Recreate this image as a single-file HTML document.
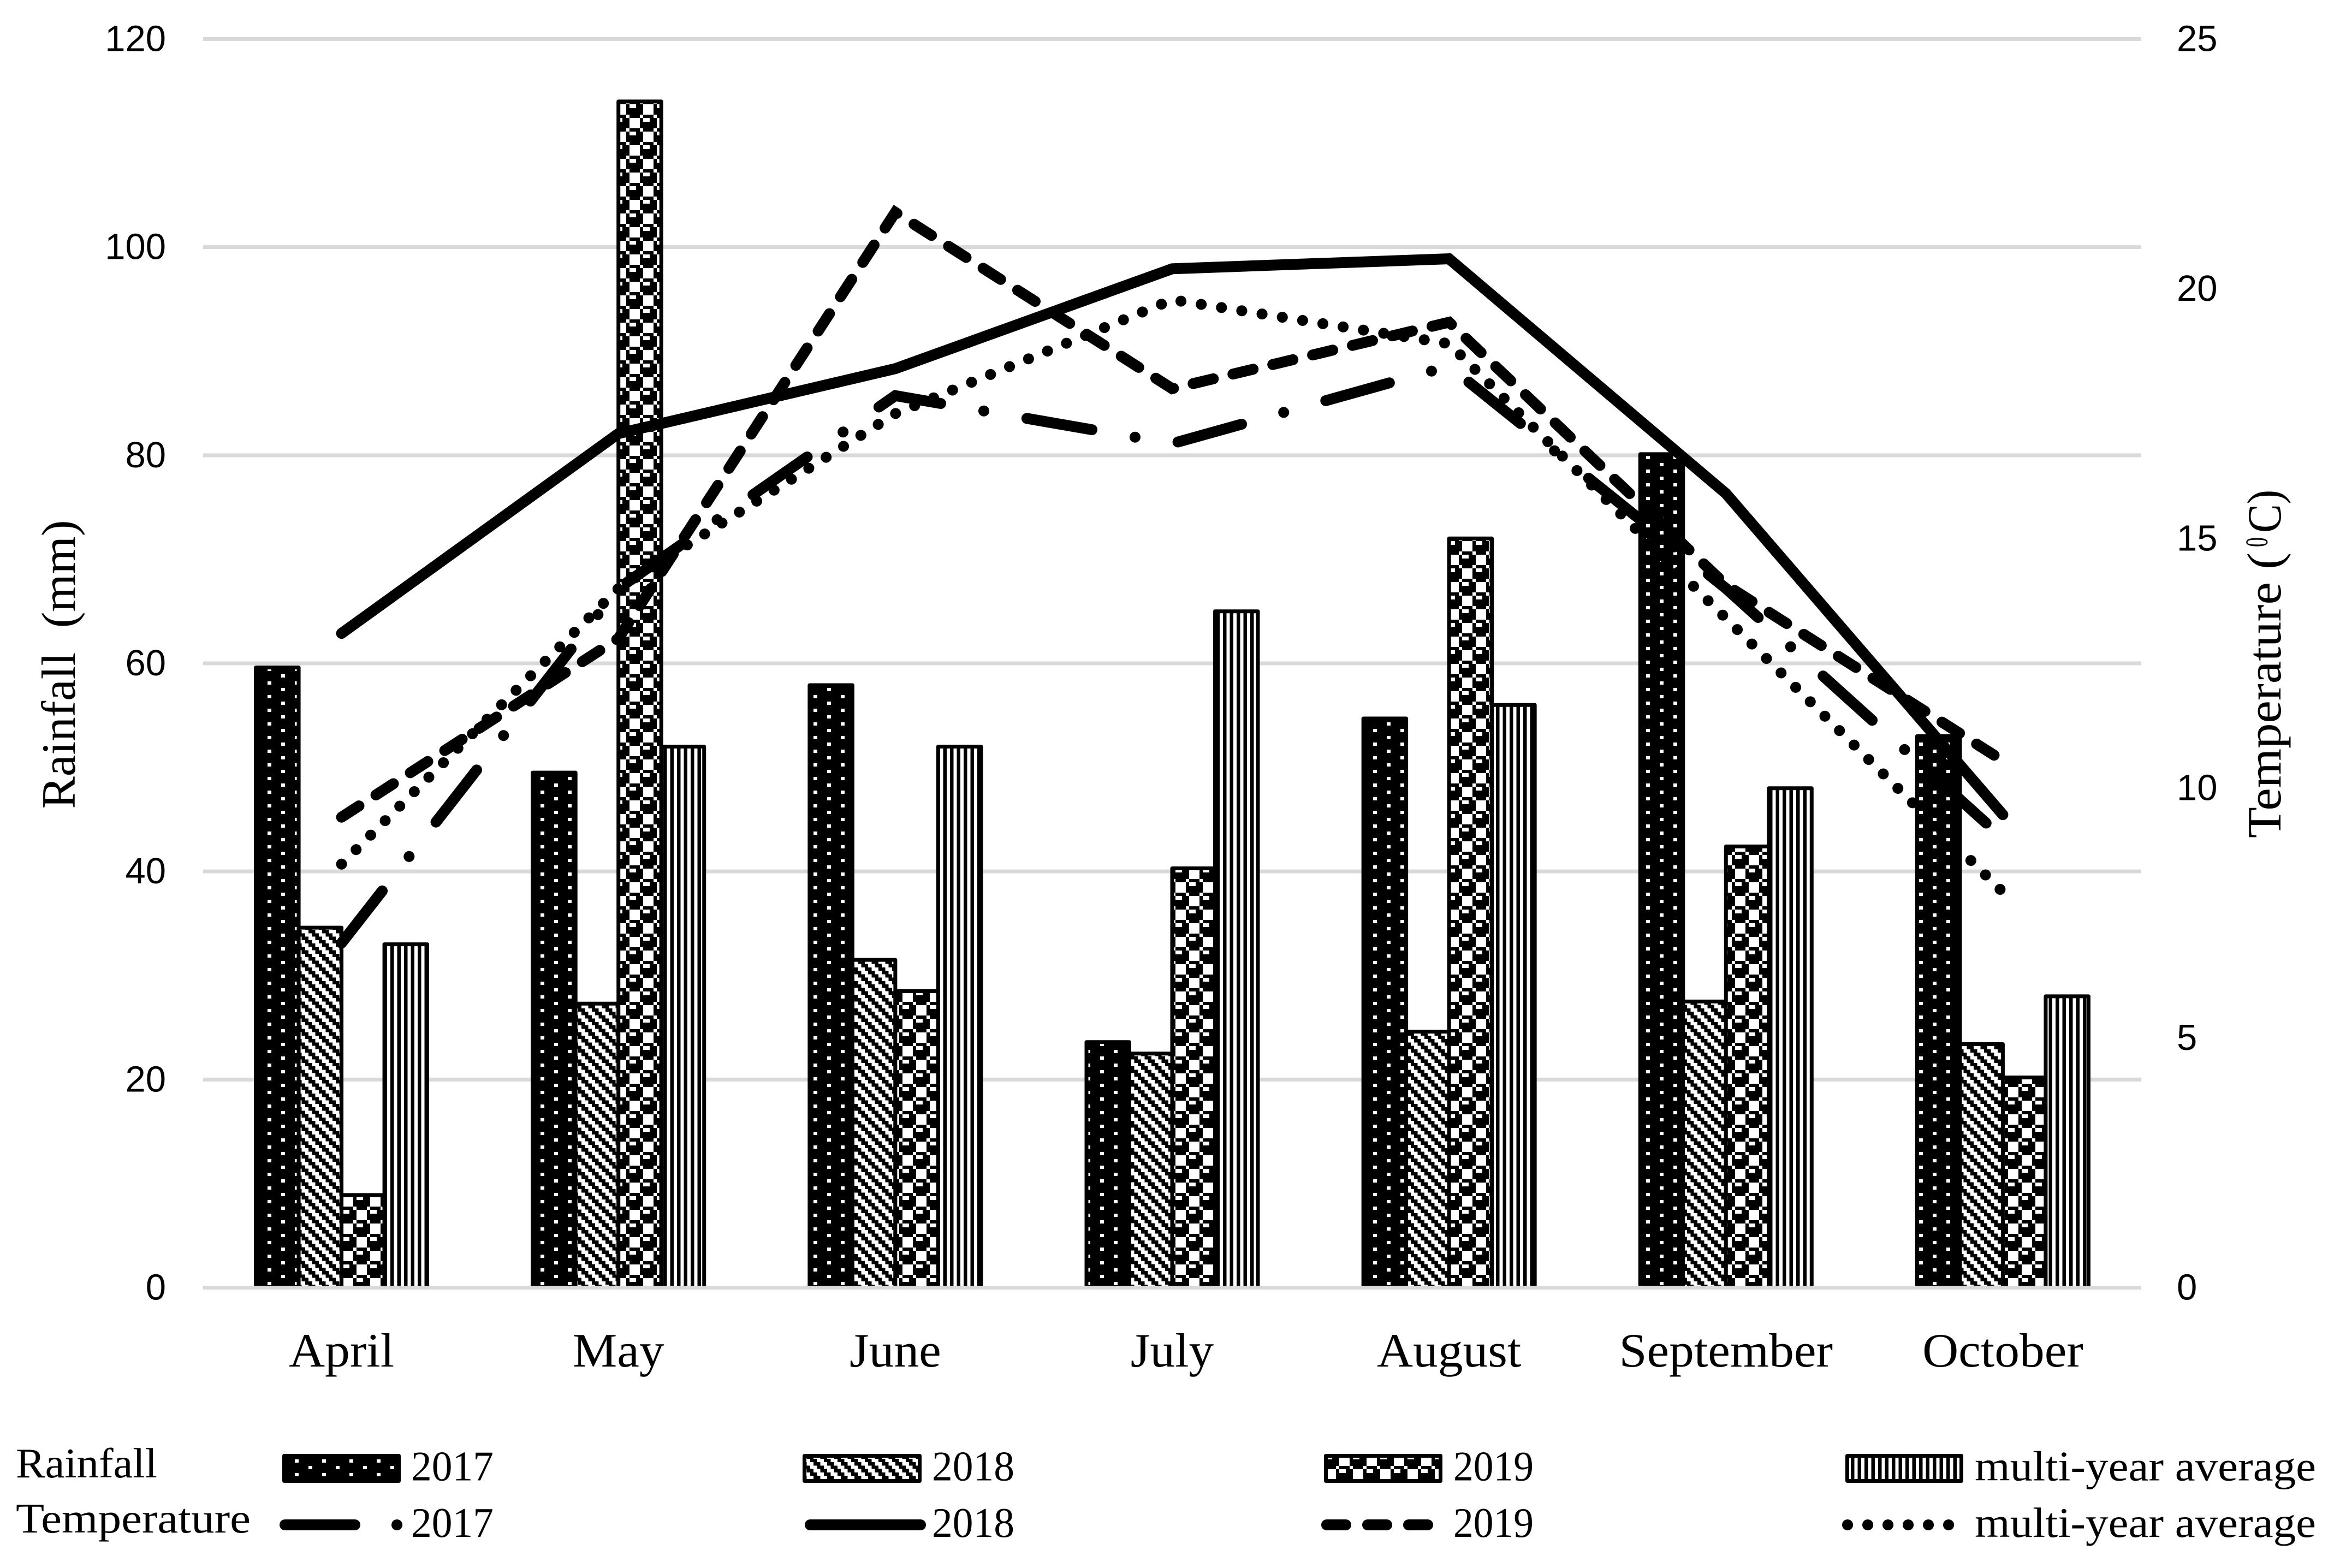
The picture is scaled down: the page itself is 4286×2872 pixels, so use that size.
<!DOCTYPE html>
<html lang="en">
<head>
<meta charset="utf-8">
<title>Monthly rainfall and temperature</title>
<style>
html,body{margin:0;padding:0;background:#fff;}
svg{display:block;}
text{fill:#000;white-space:pre;}
.serif{font-family:"Liberation Serif",serif;}
.sans{font-family:"Liberation Sans",sans-serif;}
</style>
</head>
<body>
<svg id="chart" xmlns="http://www.w3.org/2000/svg" width="4286" height="2872" viewBox="0 0 4286 2872">
  <defs>
    <pattern id="fill-2017" patternUnits="userSpaceOnUse" x="490" y="1248" width="50" height="25" shape-rendering="crispEdges">
      <rect width="50" height="25" fill="#000"/>
      <rect x="0" y="0" width="7" height="6" fill="#fff"/>
      <rect x="25" y="12" width="7" height="6" fill="#fff"/>
    </pattern>
    <pattern id="fill-2018" patternUnits="userSpaceOnUse" x="565" y="1703" width="25" height="25" shape-rendering="crispEdges">
      <rect width="25" height="25" fill="#fff"/>
      <rect x="0" y="0" width="12.5" height="6.25" fill="#000"/>
      <rect x="6.25" y="6.25" width="12.5" height="6.25" fill="#000"/>
      <rect x="12.5" y="12.5" width="12.5" height="6.25" fill="#000"/>
      <rect x="18.75" y="18.75" width="6.25" height="6.25" fill="#000"/>
      <rect x="0" y="18.75" width="6.25" height="6.25" fill="#000"/>
    </pattern>
    <pattern id="fill-2019" patternUnits="userSpaceOnUse" x="1147" y="191" width="50" height="50" shape-rendering="crispEdges">
      <rect width="50" height="50" fill="#000"/>
      <rect x="31" y="0" width="19" height="19" fill="#fff"/>
      <rect x="6" y="0" width="12" height="7" fill="#fff"/>
      <rect x="6" y="25" width="19" height="19" fill="#fff"/>
      <rect x="31" y="25" width="12" height="7" fill="#fff"/>
      <rect x="0" y="19" width="6" height="6" fill="#fff"/>
      <rect x="25" y="19" width="6" height="6" fill="#fff"/>
      <rect x="0" y="44" width="6" height="6" fill="#fff"/>
      <rect x="25" y="44" width="6" height="6" fill="#fff"/>
    </pattern>
    <pattern id="fill-average" patternUnits="userSpaceOnUse" x="709" y="0" width="12.5" height="25">
      <rect width="12.5" height="25" fill="#000"/>
      <rect x="0" y="0" width="6" height="25" fill="#fff"/>
    </pattern>
  </defs>

  <rect width="4286" height="2872" fill="#fff"/>
  <g id="grid"></g>
  <g id="bars"></g>
  <g id="axis"></g>
  <g id="lines"></g>
  <g id="left-ticks"></g>
  <g id="right-ticks"></g>
  <g id="cat-labels"></g>

  <text class="serif" font-size="88" transform="translate(137,1481.5) rotate(-90)" textLength="529" lengthAdjust="spacingAndGlyphs">Rainfall  (mm)</text>
  <g>
    <text class="serif" font-size="88" transform="translate(4177,1535) rotate(-90)" textLength="523" lengthAdjust="spacingAndGlyphs">Temperature (</text>
    <text class="serif" font-size="58" transform="translate(4153,1002) rotate(-90)" textLength="18" lengthAdjust="spacingAndGlyphs">0</text>
    <text class="serif" font-size="88" transform="translate(4177,976) rotate(-90)" textLength="79" lengthAdjust="spacingAndGlyphs">C)</text>
  </g>

  <g>
    <text class="serif" x="29" y="2706" font-size="77" textLength="259" lengthAdjust="spacingAndGlyphs">Rainfall</text>
    <text class="serif" x="29" y="2807" font-size="77" textLength="430" lengthAdjust="spacingAndGlyphs">Temperature</text>

    <rect x="520.5" y="2666.5" width="210" height="46" fill="url(#fill-2017)" stroke="#000" stroke-width="7" stroke-linejoin="round"/>
    <text class="serif" x="753" y="2711.5" font-size="77" textLength="151" lengthAdjust="spacingAndGlyphs">2017</text>
    <rect x="1473.5" y="2666.5" width="211" height="46" fill="url(#fill-2018)" stroke="#000" stroke-width="7" stroke-linejoin="round"/>
    <text class="serif" x="1707" y="2711.5" font-size="77" textLength="151" lengthAdjust="spacingAndGlyphs">2018</text>
    <rect x="2428.5" y="2666.5" width="210" height="46" fill="url(#fill-2019)" stroke="#000" stroke-width="7" stroke-linejoin="round"/>
    <text class="serif" x="2662" y="2711.5" font-size="77" textLength="147" lengthAdjust="spacingAndGlyphs">2019</text>
    <rect x="3383.5" y="2666.5" width="209" height="46" fill="url(#fill-average)" stroke="#000" stroke-width="7" stroke-linejoin="round"/>
    <text class="serif" x="3617" y="2711.5" font-size="77" textLength="625" lengthAdjust="spacingAndGlyphs">multi-year average</text>

    <line x1="522" y1="2793" x2="727.1" y2="2793" stroke="#000" stroke-width="20" stroke-linecap="round" stroke-dasharray="128 77 0.1 100"/>
    <text class="serif" x="753" y="2815" font-size="77" textLength="151" lengthAdjust="spacingAndGlyphs">2017</text>
    <line x1="1484" y1="2793" x2="1686" y2="2793" stroke="#000" stroke-width="20" stroke-linecap="round"/>
    <text class="serif" x="1707" y="2815" font-size="77" textLength="151" lengthAdjust="spacingAndGlyphs">2018</text>
    <line x1="2430" y1="2793" x2="2629" y2="2793" stroke="#000" stroke-width="20" stroke-linecap="round" stroke-dasharray="35 40"/>
    <text class="serif" x="2662" y="2815" font-size="77" textLength="147" lengthAdjust="spacingAndGlyphs">2019</text>
    <line x1="3384" y1="2793" x2="3569.1" y2="2793" stroke="#000" stroke-width="20" stroke-linecap="round" stroke-dasharray="0.1 36.9"/>
    <text class="serif" x="3617" y="2815" font-size="77" textLength="625" lengthAdjust="spacingAndGlyphs">multi-year average</text>
  </g>
</svg>

<script>
const months = ['April', 'May', 'June', 'July', 'August', 'September', 'October'];
const leftTickValues = [0, 20, 40, 60, 80, 100, 120];
const rightTickValues = [0, 5, 10, 15, 20, 25];

const rain2017 = [59.6, 49.5, 57.9, 23.6, 54.7, 80.1, 53];
const rain2018 = [34.6, 27.3, 31.5, 22.5, 24.6, 27.5, 23.4];
const rain2019 = [8.9, 114, 28.5, 40.3, 72, 42.4, 20.2];
const rainAverage = [33, 52, 52, 65, 56, 48, 28];

const temp2017 = [6.9, 14.0, 17.86, 16.9, 18.45, 14.0, 9.0];
const temp2018 = [13.1, 17.1, 18.4, 20.4, 20.6, 15.9, 9.47];
const temp2019 = [9.42, 13.0, 21.53, 18.0, 19.33, 14.07, 10.55];
const tempAverage = [8.48, 14.0, 17.5, 19.78, 18.9, 13.4, 7.92];

const SVG_NS = 'http://www.w3.org/2000/svg';
const plotLeft = 372, plotRight = 3922, plotTop = 71.5, plotBottom = 2358.5;
const leftMax = 120, rightMax = 25;
const barWidth = 78.5;

function yLeft(v) { return plotBottom - (v / leftMax) * (plotBottom - plotTop); }
function yRight(v) { return plotBottom - (v / rightMax) * (plotBottom - plotTop); }
function xCenter(i) { return plotLeft + (i + 0.5) * (plotRight - plotLeft) / months.length; }
function xBar(i, s, n) { return xCenter(i) - n * barWidth / 2 + s * barWidth; }

function make(tag, attrs, parent) {
  const el = document.createElementNS(SVG_NS, tag);
  for (const k in attrs) el.setAttribute(k, attrs[k]);
  parent.appendChild(el);
  return el;
}

const gridG = document.getElementById('grid');
leftTickValues.filter(v => v !== 0).forEach(v => {
  const el = make('line', {x1: plotLeft, x2: plotRight, y1: yLeft(v), y2: yLeft(v), stroke: '#d9d9d9', 'stroke-width': 7}, gridG);
  
  
});

const barSeries = [
  {key: '2017', values: rain2017, fill: 'url(#fill-2017)'},
  {key: '2018', values: rain2018, fill: 'url(#fill-2018)'},
  {key: '2019', values: rain2019, fill: 'url(#fill-2019)'},
  {key: 'average', values: rainAverage, fill: 'url(#fill-average)'}
];
const barsG = document.getElementById('bars');
months.forEach((m, i) => {
  barSeries.forEach((s, j) => {
    const top = yLeft(s.values[i]);
    const el = make('rect', {x: xBar(i, j, barSeries.length), y: top, width: barWidth, height: plotBottom - top, fill: s.fill, stroke: '#000', 'stroke-width': 7, 'stroke-linejoin': 'round'}, barsG);
    
    
  });
});

const axisG = document.getElementById('axis');
const axisLine = make('line', {x1: plotLeft, x2: plotRight, y1: yLeft(0), y2: yLeft(0), stroke: '#d9d9d9', 'stroke-width': 7}, axisG);



const lineSeries = [
  {key: '2017', values: temp2017, dash: '121 80 0.1 80'},
  {key: '2018', values: temp2018, dash: 'none'},
  {key: '2019', values: temp2019, dash: '38 37'},
  {key: 'average', values: tempAverage, dash: '0.1 37.5'}
];
const linesG = document.getElementById('lines');
lineSeries.forEach(s => {
  const pts = s.values.map((v, i) => xCenter(i) + ',' + yRight(v)).join(' ');
  const el = make('polyline', {points: pts, fill: 'none', stroke: '#000', 'stroke-width': 20, 'stroke-linecap': 'round', 'stroke-linejoin': 'miter', 'stroke-dasharray': s.dash}, linesG);
  
  
});

const leftG = document.getElementById('left-ticks');
leftTickValues.forEach(v => {
  const el = make('text', {x: 304, y: yLeft(v) + 22, 'font-size': 67, 'text-anchor': 'end', class: 'sans'}, leftG);
  el.textContent = String(v);
  
  
});

const rightG = document.getElementById('right-ticks');
rightTickValues.forEach(v => {
  const el = make('text', {x: 3987, y: yRight(v) + 22, 'font-size': 67, class: 'sans'}, rightG);
  el.textContent = String(v);
  
  
});

const catG = document.getElementById('cat-labels');
months.forEach((m, i) => {
  const el = make('text', {transform: 'translate(' + xCenter(i) + ',2503) scale(1.04,1)', 'font-size': 88, 'text-anchor': 'middle', class: 'serif'}, catG);
  el.textContent = m;
  
  
});
</script>
</body>
</html>
